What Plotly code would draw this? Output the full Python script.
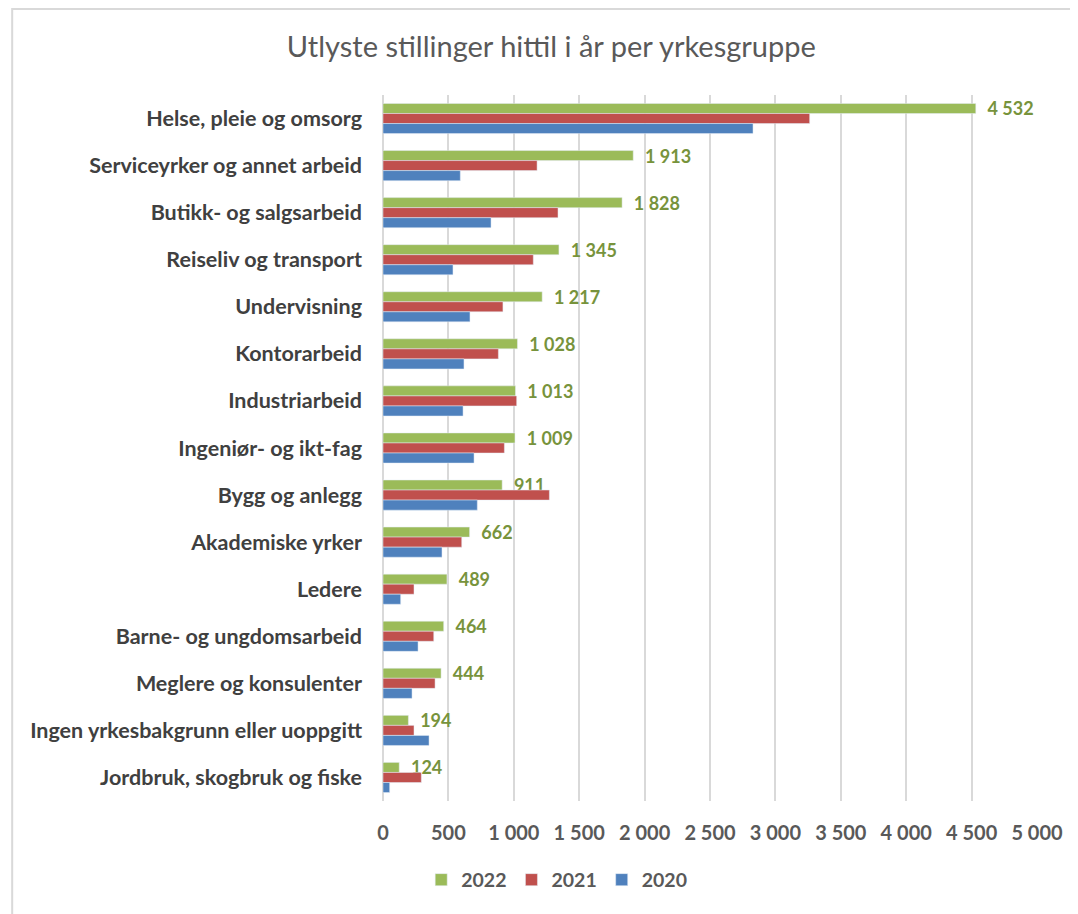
import plotly.graph_objects as go

categories = [
    "Helse, pleie og omsorg",
    "Serviceyrker og annet arbeid",
    "Butikk- og salgsarbeid",
    "Reiseliv og transport",
    "Undervisning",
    "Kontorarbeid",
    "Industriarbeid",
    "Ingeniør- og ikt-fag",
    "Bygg og anlegg",
    "Akademiske yrker",
    "Ledere",
    "Barne- og ungdomsarbeid",
    "Meglere og konsulenter",
    "Ingen yrkesbakgrunn eller uoppgitt",
    "Jordbruk, skogbruk og fiske",
]
v2022 = [4532, 1913, 1828, 1345, 1217, 1028, 1013, 1009, 911, 662, 489, 464, 444, 194, 124]
v2021 = [3262, 1178, 1338, 1149, 917, 882, 1022, 928, 1272, 602, 237, 388, 398, 237, 293]
v2020 = [2829, 591, 826, 535, 665, 619, 612, 696, 721, 451, 135, 268, 222, 352, 51]
tick_vals = [0, 500, 1000, 1500, 2000, 2500, 3000, 3500, 4000, 4500, 5000]

FONT = "Lato, 'Open Sans', sans-serif"

fig = go.Figure()
fig.add_trace(go.Bar(
    y=categories, x=v2022, name="2022", orientation="h",
    marker=dict(color="#9BBB59"),
    texttemplate="\u00a0\u00a0%{x:,}", textposition="outside",
    constraintext="none",
    textfont=dict(color="#77933C", size=18, family=FONT, weight="bold"),
    cliponaxis=False,
))
fig.add_trace(go.Bar(
    y=categories, x=v2021, name="2021", orientation="h",
    marker=dict(color="#C0504D"),
))
fig.add_trace(go.Bar(
    y=categories, x=v2020, name="2020", orientation="h",
    marker=dict(color="#4F81BD"),
))

fig.update_layout(
    width=1078, height=914,
    paper_bgcolor="white", plot_bgcolor="white",
    barmode="group", bargap=0.36, bargroupgap=0,
    separators=", ",
    margin=dict(l=375, r=49, t=87, b=121, autoexpand=False),
    title=dict(
        text="Utlyste stillinger hittil i år per yrkesgruppe",
        x=0.504, xanchor="center", xref="container",
        y=0.958, yref="container", yanchor="middle",
        font=dict(family=FONT, size=29, color="#595959"),
    ),
    font=dict(family=FONT, color="#595959"),
    legend=dict(
        orientation="h", x=0.509, xanchor="center", xref="container",
        y=0.046, yref="container", yanchor="middle",
        font=dict(size=19.5, color="#595959", weight="bold"),
        itemwidth=30, tracegroupgap=0,
    ),
    showlegend=True,
)
fig.update_xaxes(
    range=[0, 5000], tickvals=tick_vals, tickformat=",d",
    showgrid=True, gridcolor="#D9D9D9", gridwidth=2,
    zeroline=True, zerolinecolor="#D9D9D9", zerolinewidth=2,
    showline=False, ticks="", ticklabelstandoff=18,
    tickfont=dict(size=20, color="#595959", weight="bold"),
)
fig.update_yaxes(
    autorange="reversed", showgrid=False, showline=False, ticks="",
    ticklabelstandoff=20,
    tickfont=dict(size=21.5, color="#404040", weight="bold"),
)

# chart frame
fig.add_shape(type="rect", xref="paper", yref="paper",
              x0=-0.567, x1=1.2, y0=-0.3, y1=1.1218,
              line=dict(color="#D9D9D9", width=2), layer="below")

fig.write_html("out.html")
